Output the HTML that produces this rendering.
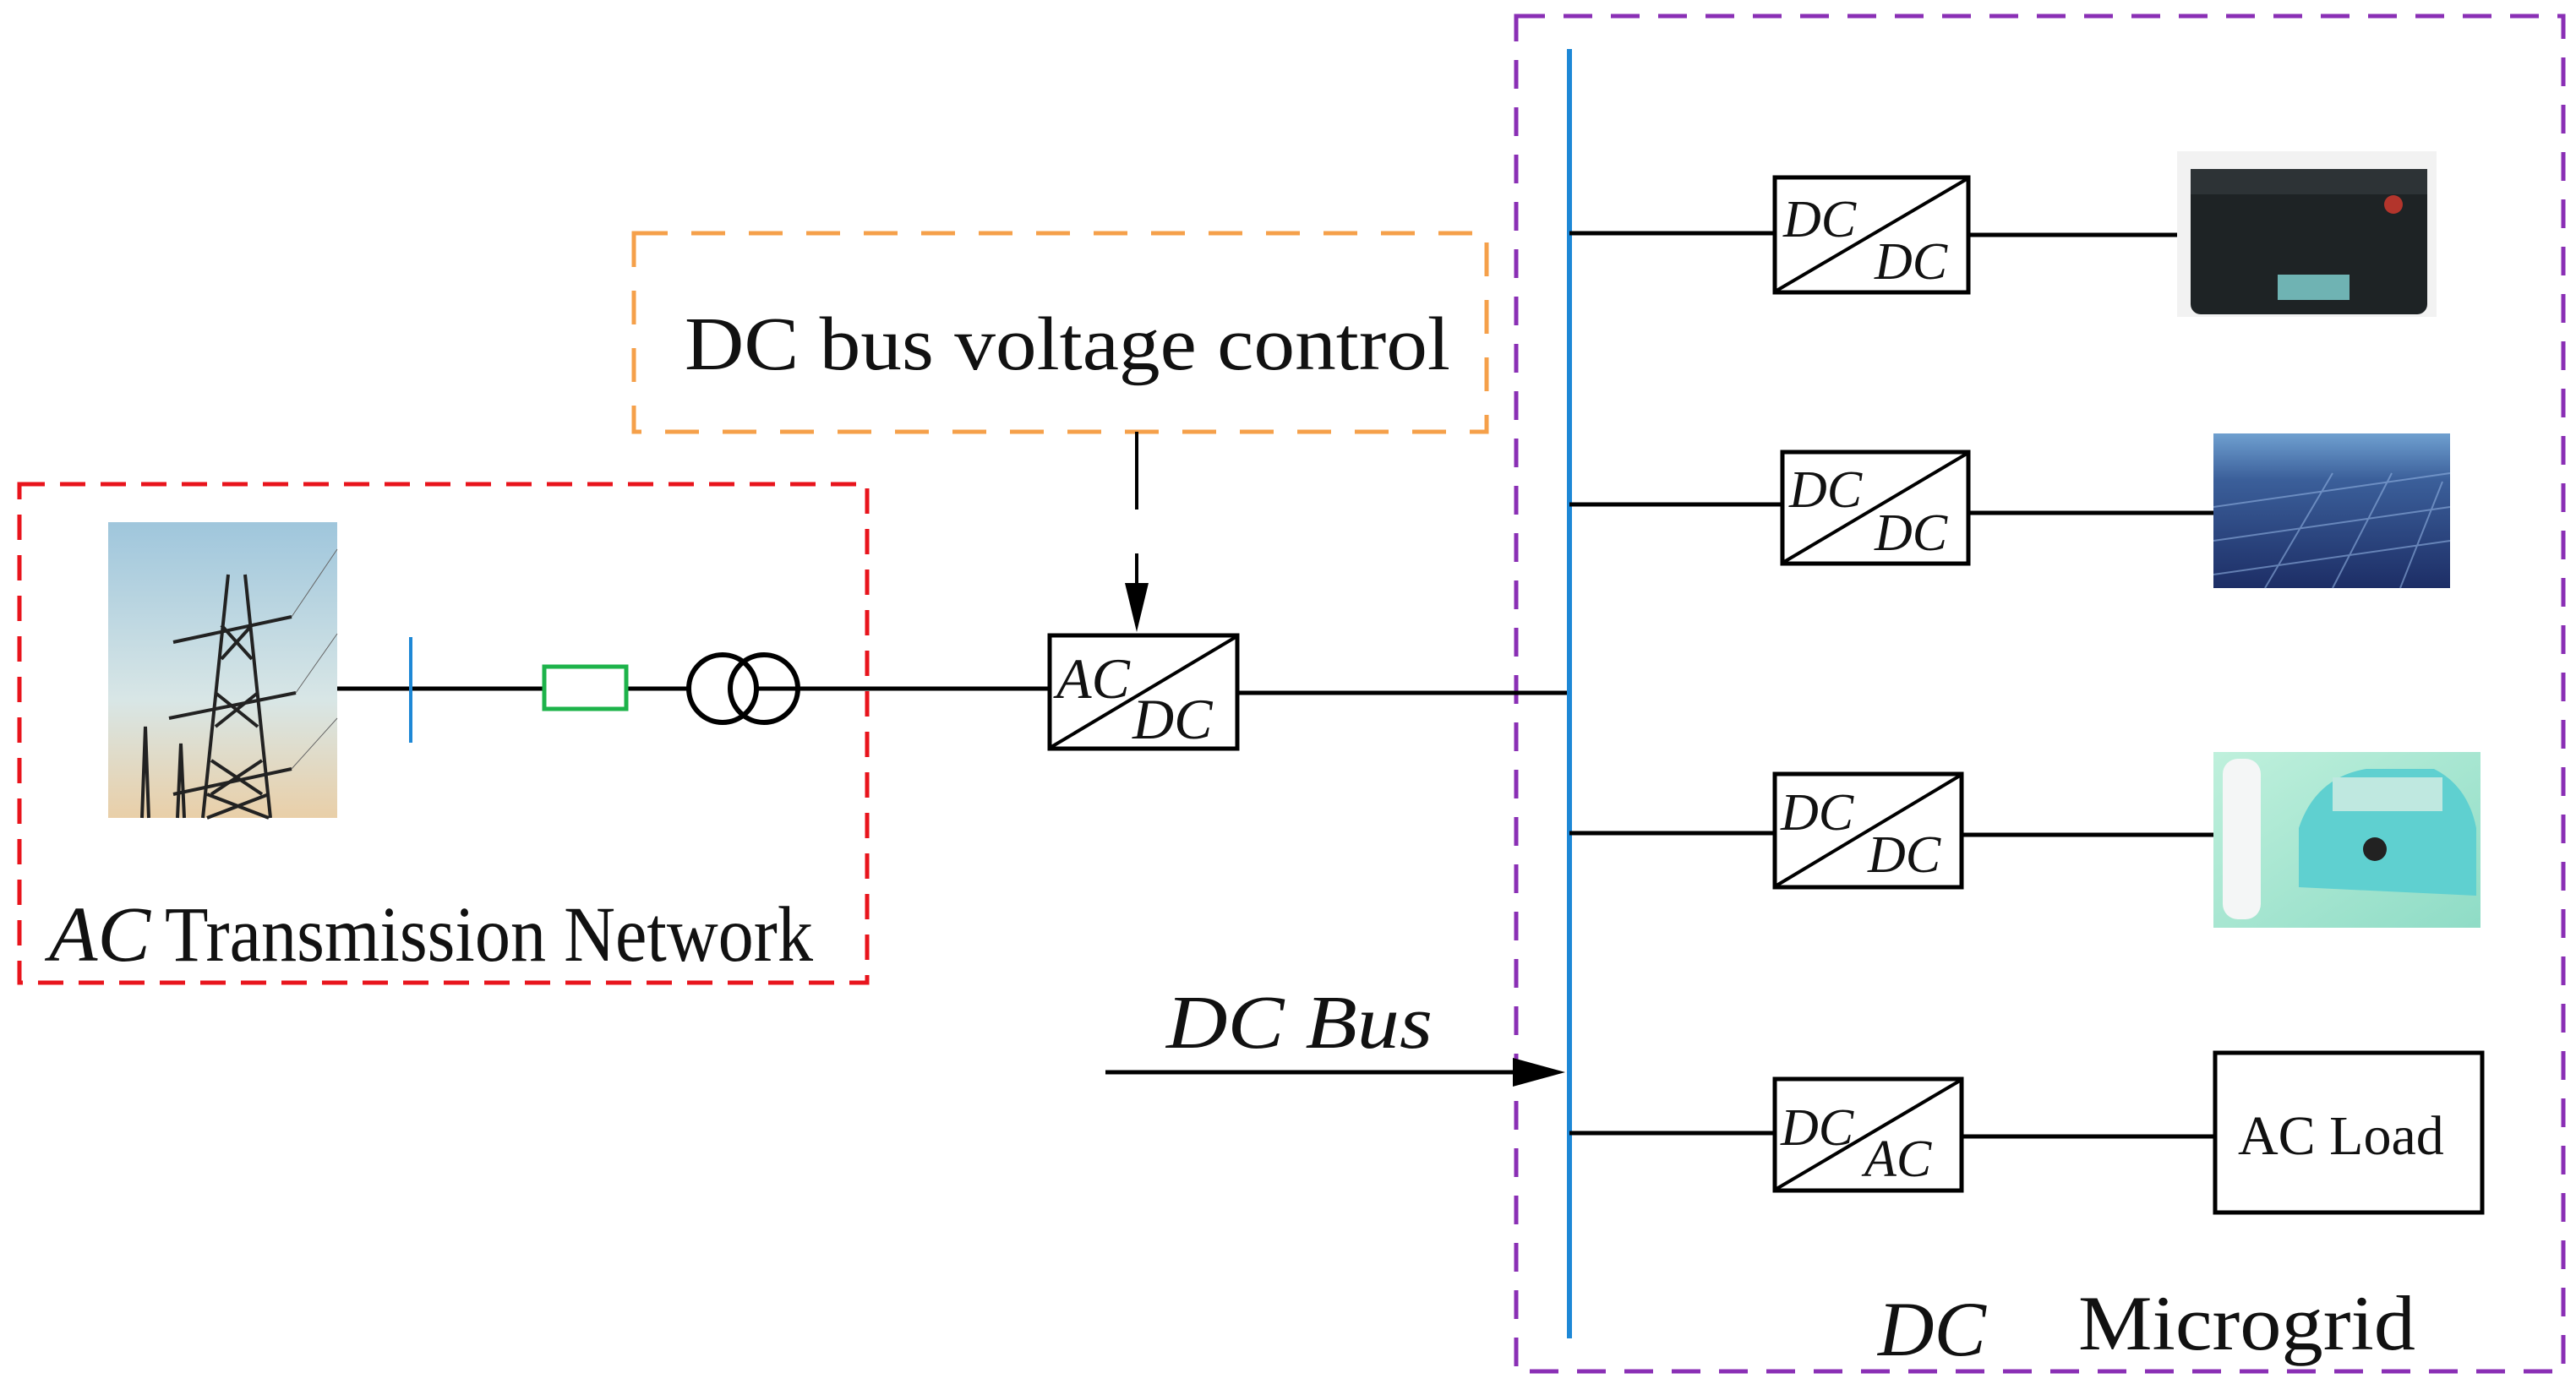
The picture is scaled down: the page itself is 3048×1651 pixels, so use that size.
<!DOCTYPE html>
<html><head><meta charset="utf-8"><style>
html,body{margin:0;padding:0;background:#fff}
svg{display:block}
text{font-family:"Liberation Serif",serif;fill:#111}
</style></head><body>
<svg width="3048" height="1651" viewBox="0 0 3048 1651" xmlns="http://www.w3.org/2000/svg">
<defs>
<linearGradient id="sky" x1="0" y1="0" x2="0" y2="1"><stop offset="0" stop-color="#9fc6dc"/><stop offset="0.6" stop-color="#d8e6e6"/><stop offset="1" stop-color="#e9cfa8"/></linearGradient>
<linearGradient id="sol" x1="0" y1="0" x2="0" y2="1"><stop offset="0" stop-color="#6fa0d0"/><stop offset="0.3" stop-color="#3b5f9a"/><stop offset="1" stop-color="#1d2e66"/></linearGradient>
<linearGradient id="ev" x1="0" y1="0" x2="1" y2="1"><stop offset="0" stop-color="#bff0dc"/><stop offset="1" stop-color="#8fdcc6"/></linearGradient>
</defs>

<rect x="1794" y="19" width="1239" height="1604" fill="none" stroke="#8a2fb5" stroke-width="5" stroke-dasharray="34,22"/>
<rect x="23" y="573" width="1003" height="590" fill="none" stroke="#e8141c" stroke-width="5" stroke-dasharray="30,18"/>
<rect x="750" y="276" width="1009" height="235" fill="none" stroke="#f5a04a" stroke-width="5" stroke-dasharray="40,28"/>
<text x="810" y="437" font-size="90" textLength="906" lengthAdjust="spacingAndGlyphs">DC bus voltage control</text>

<line x1="1345" y1="511" x2="1345" y2="603" stroke="#000" stroke-width="4"/>
<line x1="1345" y1="655" x2="1345" y2="700" stroke="#000" stroke-width="4"/>
<path d="M1331,690 L1359,690 L1345,748 z" fill="#000"/>

<rect x="128" y="618" width="271" height="350" fill="url(#sky)"/>
<g stroke="#222" stroke-width="4" fill="none">
<path d="M270,680 L240,968 M290,680 L320,968 M250,900 L310,940 M310,900 L250,940 M255,820 L305,860 M305,820 L255,860 M262,740 L298,780 M298,740 L262,780 M245,940 L318,968 M318,940 L245,968"/>
<path d="M205,760 L345,730 M200,850 L350,820 M205,940 L345,910"/>
<path d="M168,968 L172,860 L176,968 M210,968 L214,880 L218,968"/>
</g>
<g stroke="#666" stroke-width="1" fill="none"><path d="M345,730 L399,650 M350,820 L399,750 M345,910 L399,850"/></g>

<line x1="399" y1="815" x2="1240" y2="815" stroke="#000" stroke-width="5"/>
<line x1="486" y1="754" x2="486" y2="879" stroke="#1e88d6" stroke-width="4"/>
<rect x="644" y="789" width="97" height="50" fill="#fff" stroke="#1db34a" stroke-width="5"/>
<circle cx="855" cy="815" r="40" fill="#fff" stroke="#000" stroke-width="6"/>
<circle cx="904" cy="815" r="40" fill="none" stroke="#000" stroke-width="6"/>
<text x="58" y="1137" font-size="93" font-style="italic" textLength="120" lengthAdjust="spacingAndGlyphs">AC</text>
<text x="195" y="1137" font-size="93" textLength="767" lengthAdjust="spacingAndGlyphs">Transmission Network</text>

<rect x="1242" y="752" width="222" height="134" fill="#fff" stroke="#000" stroke-width="5"/>
<line x1="1244" y1="884" x2="1462" y2="754" stroke="#000" stroke-width="4"/>
<text x="1250" y="826" font-size="68" font-style="italic">AC</text>
<text x="1340" y="874" font-size="68" font-style="italic">DC</text>
<line x1="1464" y1="820" x2="1857" y2="820" stroke="#000" stroke-width="5"/>

<text x="1380" y="1240" font-size="90" font-style="italic" textLength="315" lengthAdjust="spacingAndGlyphs">DC Bus</text>
<line x1="1308" y1="1269" x2="1800" y2="1269" stroke="#000" stroke-width="5"/>
<path d="M1790,1252 L1852,1269 L1790,1286 z" fill="#000"/>

<line x1="1857" y1="58" x2="1857" y2="1584" stroke="#1e88d6" stroke-width="6"/>

<g stroke="#000" stroke-width="5">
<line x1="1857" y1="276" x2="2100" y2="276"/><line x1="2329" y1="278" x2="2576" y2="278"/>
<line x1="1857" y1="597" x2="2109" y2="597"/><line x1="2329" y1="607" x2="2619" y2="607"/>
<line x1="1857" y1="986" x2="2100" y2="986"/><line x1="2321" y1="988" x2="2619" y2="988"/>
<line x1="1857" y1="1341" x2="2100" y2="1341"/><line x1="2321" y1="1345" x2="2621" y2="1345"/>
</g>
<g fill="#fff" stroke="#000" stroke-width="5">
<rect x="2100" y="210" width="229" height="136"/>
<rect x="2109" y="535" width="220" height="132"/>
<rect x="2100" y="916" width="221" height="134"/>
<rect x="2100" y="1277" width="221" height="132"/>
</g>
<g stroke="#000" stroke-width="4">
<line x1="2102" y1="344" x2="2327" y2="212"/>
<line x1="2111" y1="665" x2="2327" y2="537"/>
<line x1="2102" y1="1048" x2="2319" y2="918"/>
<line x1="2102" y1="1407" x2="2319" y2="1279"/>
</g>
<g font-size="62" font-style="italic">
<text x="2110" y="280">DC</text><text x="2218" y="330">DC</text>
<text x="2117" y="600">DC</text><text x="2218" y="651">DC</text>
<text x="2107" y="982">DC</text><text x="2210" y="1032">DC</text>
<text x="2107" y="1355">DC</text><text x="2206" y="1392">AC</text>
</g>

<rect x="2576" y="179" width="307" height="196" fill="#f2f2f2"/>
<rect x="2592" y="200" width="280" height="172" rx="12" fill="#1e2325"/>
<rect x="2592" y="200" width="280" height="30" fill="#2d3336"/>
<circle cx="2832" cy="242" r="11" fill="#b3352c"/>
<rect x="2695" y="325" width="85" height="30" fill="#6fb3b3"/>
<rect x="2619" y="513" width="280" height="183" fill="url(#sol)"/>
<g stroke="#8fb0e0" stroke-width="2" opacity="0.6"><path d="M2619,600 L2899,560 M2619,640 L2899,600 M2619,680 L2899,640 M2680,696 L2760,560 M2760,696 L2830,560 M2840,696 L2890,570"/></g>
<rect x="2619" y="890" width="316" height="208" fill="url(#ev)"/>
<rect x="2630" y="898" width="45" height="190" rx="18" fill="#f4f6f6"/>
<path d="M2720,1050 L2720,980 Q2740,920 2800,910 L2880,910 Q2920,930 2930,980 L2930,1060 Z" fill="#5fd0d0"/>
<rect x="2760" y="920" width="130" height="40" fill="#bfe8e0"/>
<circle cx="2810" cy="1005" r="14" fill="#222"/>
<rect x="2621" y="1246" width="316" height="189" fill="#fff" stroke="#000" stroke-width="5"/>
<text x="2648" y="1366" font-size="66">AC Load</text>

<text x="2222" y="1604" font-size="92" font-style="italic">DC</text>
<text x="2459" y="1597" font-size="92" textLength="399" lengthAdjust="spacingAndGlyphs">Microgrid</text>
</svg>
</body></html>
